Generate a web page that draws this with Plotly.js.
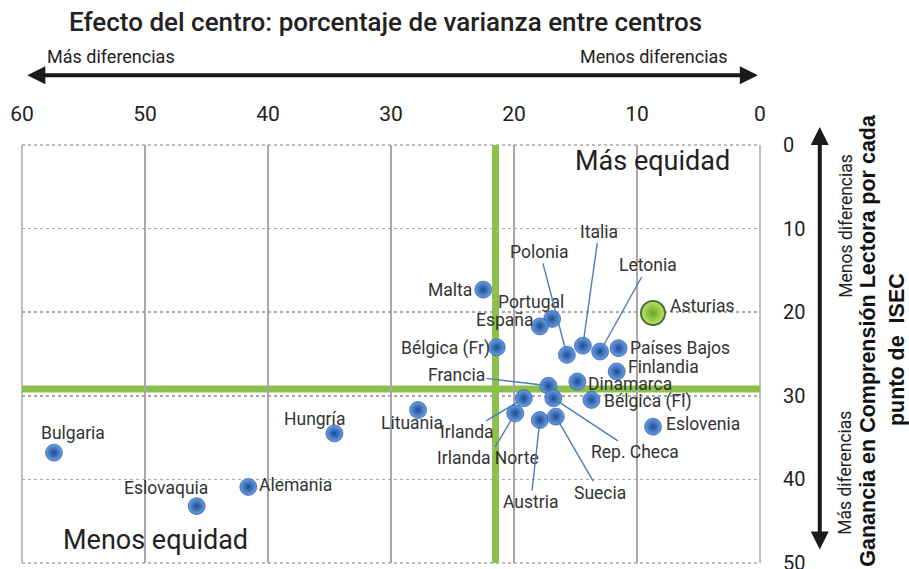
<!DOCTYPE html>
<html>
<head>
<meta charset="utf-8">
<script src="https://cdn.plot.ly/plotly-3.0.1.min.js"></script>
<style>html,body{margin:0;padding:0;background:#fff;}#chart{width:909px;height:569px;}</style>
</head>
<body>
<div id="chart"></div>
<script>
// ---- Data ----
const countries = ["Bulgaria","Eslovaquia","Alemania","Hungría","Lituania","Malta","Bélgica (Fr)","Portugal","España","Polonia","Italia","Letonia","Países Bajos","Finlandia","Dinamarca","Francia","Bélgica (Fl)","Rep. Checa","Irlanda","Irlanda Norte","Austria","Suecia","Eslovenia"];
const varianzaCentros = [57.4,45.8,41.6,34.6,27.8,22.5,21.4,16.9,17.9,15.7,14.4,13.0,11.5,11.65,14.85,17.2,13.7,16.8,19.2,19.9,17.9,16.6,8.7];
const gananciaISEC = [36.8,43.2,40.9,34.5,31.7,17.3,24.2,20.8,21.7,25.1,24.0,24.7,24.3,27.1,28.3,28.8,30.5,30.3,30.3,32.1,32.9,32.5,33.7];
const asturiasName = ["Asturias"];
const asturiasX = [8.7];
const asturiasY = [20.1];
const mediaX = [21.5];   // vertical reference line
const mediaY = [29.2];   // horizontal reference line
const xTicks = [60,50,40,30,20,10,0];
const yTicks = [0,10,20,30,40,50];

// ---- Label placement (pixel offsets, style only) ----
const labelStyle = {
  "Bulgaria":{xanchor:"center",xs:19,ys:20},
  "Eslovaquia":{xanchor:"center",xs:-31,ys:18},
  "Alemania":{xanchor:"left",xs:9,ys:2},
  "Hungría":{xanchor:"center",xs:-20,ys:14},
  "Lituania":{xanchor:"center",xs:-6,ys:-13},
  "Malta":{xanchor:"right",xs:-9,ys:0},
  "Bélgica (Fr)":{xanchor:"right",xs:-5,ys:-1},
  "Portugal":{xanchor:"center",xs:-21,ys:17},
  "España":{xanchor:"right",xs:-4,ys:6},
  "Países Bajos":{xanchor:"left",xs:9,ys:0},
  "Finlandia":{xanchor:"left",xs:9,ys:5},
  "Dinamarca":{xanchor:"left",xs:9,ys:-2},
  "Bélgica (Fl)":{xanchor:"left",xs:11,ys:-2},
  "Eslovenia":{xanchor:"left",xs:11,ys:3},
  "Polonia":{leader:true,ax:-27,ay:-103},
  "Italia":{leader:true,ax:16,ay:-114},
  "Letonia":{leader:true,ax:48,ay:-86},
  "Francia":{leader:true,ax:-92,ay:-11},
  "Irlanda":{leader:true,ax:-57,ay:34},
  "Irlanda Norte":{leader:true,ax:-27,ay:45},
  "Austria":{leader:true,ax:-9,ay:82},
  "Suecia":{leader:true,ax:44,ay:76},
  "Rep. Checa":{leader:true,ax:82,ay:54}
};

const FONT = "Roboto, 'Open Sans', sans-serif";
const txtColor = "#333333";
const LBL = 17.5;

const traces = [
  {
    type:"scatter", mode:"markers", x:varianzaCentros, y:gananciaISEC, text:countries,
    hoverinfo:"text",
    marker:{size:17, color:"#6a9fe3", gradient:{type:"radial", color:"#1b4a94"}, line:{width:0.6,color:"#1b4a94"}},
    showlegend:false, cliponaxis:false
  },
  {
    type:"scatter", mode:"markers", x:asturiasX, y:asturiasY, text:asturiasName,
    hoverinfo:"text",
    marker:{size:24, color:"#bde665", gradient:{type:"radial", color:"#6aa629"}, line:{width:2,color:"#4a6e3a"}},
    showlegend:false, cliponaxis:false
  }
];

const annotations = [];
countries.forEach((c,i)=>{
  const s = labelStyle[c];
  if (s.leader) {
    annotations.push({x:varianzaCentros[i], y:gananciaISEC[i], xref:"x", yref:"y", text:c,
      showarrow:true, arrowhead:0, arrowwidth:1.4, arrowcolor:"#4a7ebb", ax:s.ax, ay:s.ay, standoff:6,
      font:{family:FONT,size:LBL,color:txtColor}});
  } else {
    annotations.push({x:varianzaCentros[i], y:gananciaISEC[i], xref:"x", yref:"y", text:c,
      showarrow:false, xanchor:s.xanchor, yanchor:"middle", xshift:s.xs, yshift:s.ys,
      font:{family:FONT,size:LBL,color:txtColor}});
  }
});
annotations.push({x:asturiasX[0], y:asturiasY[0], xref:"x", yref:"y", text:asturiasName[0],
  showarrow:false, xanchor:"left", yanchor:"middle", xshift:15, yshift:7,
  font:{family:FONT,size:LBL,color:txtColor}});

// quadrant labels
annotations.push({xref:"paper", yref:"paper", x:0.855, y:0.962, text:"Más equidad", showarrow:false,
  xanchor:"center", yanchor:"middle", font:{family:FONT,size:27,color:"#222"}});
annotations.push({xref:"paper", yref:"paper", x:0.181, y:0.055, text:"Menos equidad", showarrow:false,
  xanchor:"center", yanchor:"middle", font:{family:FONT,size:27,color:"#222"}});

// top title & arrow texts
annotations.push({xref:"paper", yref:"paper", x:0.492, y:1.294, text:"Efecto del centro: porcentaje de varianza entre centros",
  showarrow:false, xanchor:"center", yanchor:"middle", font:{family:FONT,size:26,color:"#222",weight:500}});
annotations.push({xref:"paper", yref:"paper", x:0.031, y:1.211, text:"Más diferencias", showarrow:false,
  xanchor:"left", yanchor:"middle", font:{family:FONT,size:18,color:"#222"}});
annotations.push({xref:"paper", yref:"paper", x:0.959, y:1.211, text:"Menos diferencias", showarrow:false,
  xanchor:"right", yanchor:"middle", font:{family:FONT,size:18,color:"#222"}});
// horizontal double arrow
annotations.push({xref:"paper", yref:"paper", x:0.997, y:1.167, ax:-732, ay:0, axref:"pixel", ayref:"pixel", text:"",
  showarrow:true, arrowhead:2, arrowside:"end+start", arrowsize:0.9, arrowwidth:4, arrowcolor:"#1a1a1a"});
// vertical double arrow
annotations.push({xref:"paper", yref:"paper", x:1.081, y:1.043, ax:0, ay:424, axref:"pixel", ayref:"pixel", text:"",
  showarrow:true, arrowhead:2, arrowside:"end+start", arrowsize:0.9, arrowwidth:4, arrowcolor:"#1a1a1a"});
// right side rotated texts
annotations.push({xref:"paper", yref:"paper", x:1.116, y:0.806, text:"Menos diferencias", showarrow:false, textangle:-90,
  xanchor:"center", yanchor:"middle", font:{family:FONT,size:17.5,color:"#222"}});
annotations.push({xref:"paper", yref:"paper", x:1.116, y:0.215, text:"Más diferencias", showarrow:false, textangle:-90,
  xanchor:"center", yanchor:"middle", font:{family:FONT,size:17.5,color:"#222"}});
annotations.push({xref:"paper", yref:"paper", x:1.147, y:0.533, text:"Ganancia en Comprensión Lectora por cada", showarrow:false, textangle:-90,
  xanchor:"center", yanchor:"middle", font:{family:"Liberation Sans, Arial, sans-serif",size:21.5,color:"#111",weight:700}});
annotations.push({xref:"paper", yref:"paper", x:1.186, y:0.51, text:"punto de  ISEC", showarrow:false, textangle:-90,
  xanchor:"center", yanchor:"middle", font:{family:"Liberation Sans, Arial, sans-serif",size:21.5,color:"#111",weight:700}});

const gridCol = "#a8a8a8";
const shapes = [
  // plot frame (grid lines at range edges)
  {type:"line", xref:"paper", yref:"paper", x0:0, x1:0, y0:0, y1:1, layer:"between", line:{color:gridCol, width:1.5}},
  {type:"line", xref:"paper", yref:"paper", x0:1, x1:1, y0:0, y1:1, layer:"between", line:{color:gridCol, width:1.5}},
  {type:"line", xref:"paper", yref:"paper", x0:0, x1:1, y0:1, y1:1, layer:"between", line:{color:gridCol, width:1.5, dash:"dot"}},
  {type:"line", xref:"paper", yref:"paper", x0:0, x1:1, y0:0, y1:0, layer:"between", line:{color:gridCol, width:1.5, dash:"dot"}},
  // reference lines
  {type:"line", xref:"x", yref:"paper", x0:mediaX[0], x1:mediaX[0], y0:0, y1:1, layer:"between", line:{color:"#8cc04c", width:7}},
  {type:"line", xref:"paper", yref:"y", x0:0, x1:1, y0:mediaY[0], y1:mediaY[0], layer:"between", line:{color:"#8cc04c", width:7}}
];

const layout = {
  width:909, height:569,
  margin:{l:22, r:149, t:145, b:6},
  paper_bgcolor:"#ffffff", plot_bgcolor:"#ffffff",
  font:{family:FONT, color:"#222"},
  showlegend:false,
  xaxis:{
    side:"top", range:[60,0], tickvals:xTicks, ticktext:xTicks.map(String),
    showgrid:true, gridcolor:gridCol, gridwidth:1.5, griddash:"solid",
    zeroline:false, showline:false,
    ticks:"outside", ticklen:15, tickcolor:"rgba(0,0,0,0)",
    ticklabeloverflow:"allow",
    tickfont:{family:FONT, size:21, color:"#222"}
  },
  yaxis:{
    side:"right", range:[50,0], tickvals:yTicks, ticktext:yTicks.map(String),
    showgrid:true, gridcolor:gridCol, gridwidth:1.5, griddash:"dot",
    zeroline:false, showline:false,
    ticks:"outside", ticklen:18, tickcolor:"rgba(0,0,0,0)",
    ticklabeloverflow:"allow",
    tickfont:{family:FONT, size:20, color:"#222"}
  },
  shapes:shapes,
  annotations:annotations
};

Plotly.newPlot("chart", traces, layout, {displayModeBar:false, staticPlot:true});
</script>
</body>
</html>
